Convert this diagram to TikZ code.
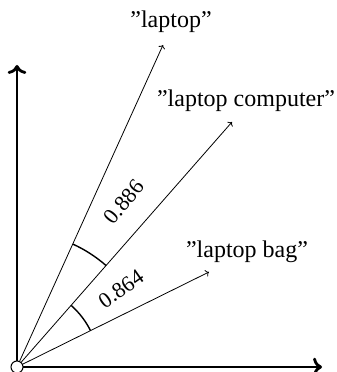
\documentclass[tikz,border=0pt]{standalone}
\usepackage{fontspec}
\setmainfont{Liberation Serif}
\usetikzlibrary{arrows.meta}

\begin{document}
\begin{tikzpicture}[x=1pt,y=1pt,>=To,semithick]
  \tikzstyle{axis}=[line width=2.8pt,-{To[scale=1.15]}]
  \tikzstyle{vec}=[line width=0.8pt,->]
  \tikzstyle{word}=[font=\fontsize{24}{28}\selectfont,inner sep=0pt]
  \tikzstyle{sim}=[font=\fontsize{22}{26}\selectfont,inner sep=0pt]
  \useasboundingbox (-17,-5) rectangle (320,367);

  \coordinate (O) at (0,0);
  \coordinate (X) at (305,0);
  \coordinate (Y) at (0,302);
  \coordinate (A) at (146,322);
  \coordinate (B) at (215,245);
  \coordinate (C) at (192,95);

  \node[word] (a) at (154,345) {''laptop''};
  \node[word] (b) at (229,266) {''laptop computer''};
  \node[word] (c) at (230,115) {''laptop bag''};

  \draw[axis] (O) -- (X);
  \draw[axis] (O) -- (Y);
  \draw[vec] (O) -- (A);
  \draw[vec] (O) -- (B);
  \draw[vec] (O) -- (C);

  % angles between the vectors
  \draw[line width=1.4pt] (48.7:135) arc (48.7:65.6:135);
  \draw[line width=1.4pt] (26.3:82) arc (26.3:48.7:82);
  \node[sim,rotate=51] (ab) at (107,165) {0.886};
  \node[sim,rotate=35] (bc) at (104,78) {0.864};

  \node[circle,draw,fill=white,line width=1pt,minimum size=12pt,inner sep=0pt] (o) at (O) {};
\end{tikzpicture}
\end{document}
